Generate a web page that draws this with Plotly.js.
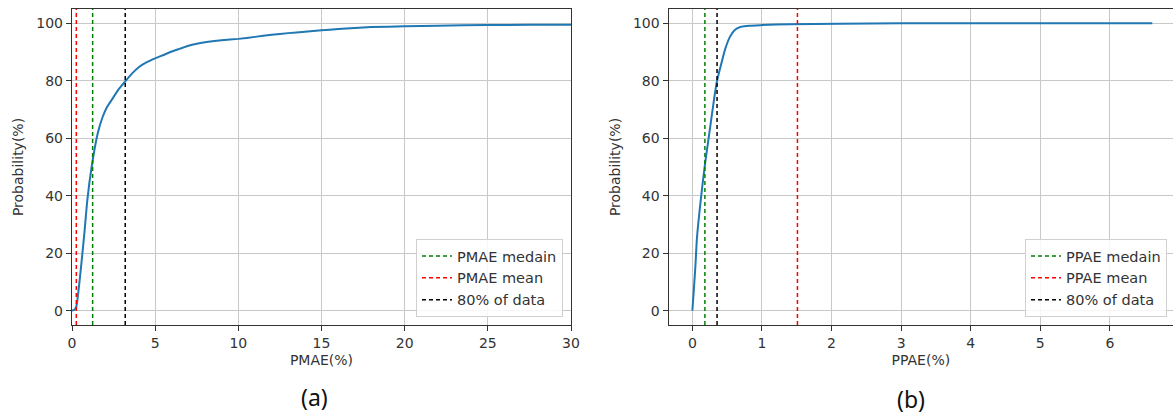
<!DOCTYPE html>
<html>
<head>
<meta charset="utf-8">
<script src="https://cdn.plot.ly/plotly-3.0.1.min.js"></script>
<style>html,body{margin:0;padding:0;background:#fff;}#chart{width:1173px;height:420px;}</style>
</head>
<body>
<div id="chart"></div>
<script>
// PMAE cumulative distribution (panel a)
const pmaeX = [0, 0.15, 0.25, 0.32, 0.43, 0.54, 0.74, 0.92, 1.18, 1.54, 1.84, 2.1, 2.38, 2.8, 3.2, 3.6, 4.05, 4.5, 5.0, 5.5, 6.0, 6.5, 7.0, 7.5, 8.0, 9.0, 10.0, 11.0, 12.0, 13.0, 14.0, 15.0, 16.0, 17.0, 18.0, 20.0, 22.0, 25.0, 27.5, 30.0];
const pmaeY = [0, 0.3, 1.2, 3.5, 9, 15, 26.7, 38.4, 50, 61.6, 67.4, 70.8, 73.3, 77, 79.8, 82.5, 84.9, 86.5, 87.8, 89, 90.2, 91.2, 92.2, 92.9, 93.4, 94.1, 94.6, 95.3, 96, 96.6, 97.1, 97.6, 98, 98.4, 98.7, 99, 99.2, 99.4, 99.5, 99.5];
// PPAE cumulative distribution (panel b)
const ppaeX = [0, 0.015, 0.03, 0.045, 0.065, 0.12, 0.176, 0.243, 0.31, 0.352, 0.405, 0.467, 0.54, 0.61, 0.70, 0.82, 1.0, 1.4, 2.1, 3.0, 4.0, 5.0, 6.0, 6.61];
const ppaeY = [0, 5, 10.5, 16, 25, 38.4, 50, 61.6, 73.3, 79.7, 84.9, 90.7, 95.3, 97.7, 98.8, 99.2, 99.4, 99.7, 99.9, 100, 100, 100, 100, 100];
// reference lines
const pmaeMedian = 1.24, pmaeMean = 0.26, pmae80 = 3.2;
const ppaeMedian = 0.18, ppaeMean = 1.51, ppae80 = 0.355;
const yMin = -5, yMax = 105;
const legendA = ['PMAE medain', 'PMAE mean', '80% of data'];
const legendB = ['PPAE medain', 'PPAE mean', '80% of data'];
const xTicksA = [0, 5, 10, 15, 20, 25, 30];
const xTicksB = [0, 1, 2, 3, 4, 5, 6];
const yTicks = [0, 20, 40, 60, 80, 100];

const blue = '#1f77b4';
function vline(x, color, name, xa, ya, leg) {
  return {x: [x, x], y: [yMin, yMax], mode: 'lines', name: name, xaxis: xa, yaxis: ya, legend: leg,
          line: {color: color, width: 1.5, dash: '4px,3px'}, hoverinfo: 'skip'};
}
const traces = [
  {x: pmaeX, y: pmaeY, mode: 'lines', line: {color: blue, width: 2, shape: 'spline', smoothing: 0.5}, showlegend: false, xaxis: 'x', yaxis: 'y'},
  vline(pmaeMedian, 'green', legendA[0], 'x', 'y', 'legend'),
  vline(pmaeMean, 'red', legendA[1], 'x', 'y', 'legend'),
  vline(pmae80, 'black', legendA[2], 'x', 'y', 'legend'),
  {x: ppaeX, y: ppaeY, mode: 'lines', line: {color: blue, width: 2, shape: 'spline', smoothing: 0.5}, showlegend: false, xaxis: 'x2', yaxis: 'y2'},
  vline(ppaeMedian, 'green', legendB[0], 'x2', 'y2', 'legend2'),
  vline(ppaeMean, 'red', legendB[1], 'x2', 'y2', 'legend2'),
  vline(ppae80, 'black', legendB[2], 'x2', 'y2', 'legend2')
];

const tickFont = {family: 'DejaVu Sans, sans-serif', size: 14, color: '#333'};
const titleFont = {family: 'DejaVu Sans, sans-serif', size: 14, color: '#333'};
const axisCommon = {
  showgrid: true, gridcolor: '#c8c8c8', gridwidth: 1,
  showline: true, linecolor: '#333', linewidth: 1.2, mirror: true,
  ticks: 'outside', ticklen: 5, tickcolor: '#333', tickfont: tickFont, zeroline: false
};
const legendCommon = {
  bgcolor: 'rgba(255,255,255,0.85)', bordercolor: '#d0d0d0', borderwidth: 1,
  font: {family: 'DejaVu Sans, sans-serif', size: 14.5, color: '#333'},
  xanchor: 'right', yanchor: 'bottom', tracegroupgap: 0, itemwidth: 30
};

const layout = {
  width: 1173, height: 420,
  margin: {l: 0, r: 0, t: 9, b: 95},
  paper_bgcolor: '#fff', plot_bgcolor: '#fff',
  showlegend: true,
  xaxis: Object.assign({}, axisCommon, {domain: [72/1173, 571/1173], range: [0, 30], tickvals: xTicksA, anchor: 'y',
    title: {text: 'PMAE(%)', font: titleFont, standoff: 5}}),
  yaxis: Object.assign({}, axisCommon, {domain: [0, 1], range: [yMin, yMax], tickvals: yTicks, anchor: 'x',
    title: {text: 'Probability(%)', font: titleFont, standoff: 9}}),
  xaxis2: Object.assign({}, axisCommon, {domain: [668.7/1173, 1], range: [-0.34, 6.907], tickvals: xTicksB, anchor: 'y2',
    title: {text: 'PPAE(%)', font: titleFont, standoff: 5}}),
  yaxis2: Object.assign({}, axisCommon, {domain: [0, 1], range: [yMin, yMax], tickvals: yTicks, anchor: 'x2',
    title: {text: 'Probability(%)', font: titleFont, standoff: 9}}),
  legend: Object.assign({}, legendCommon, {x: 563/1173, y: (420-95-317)/316, xref: 'paper', yref: 'paper'}),
  legend2: Object.assign({}, legendCommon, {x: 1167/1173, y: (420-95-317)/316, xref: 'paper', yref: 'paper'}),
  annotations: [
    {text: '(a)', xref: 'paper', yref: 'paper', x: 314/1173, y: -(397-325)/316, xanchor: 'center', yanchor: 'middle', showarrow: false,
     font: {family: 'Noto Sans, sans-serif', size: 23, color: '#111'}},
    {text: '(b)', xref: 'paper', yref: 'paper', x: 911/1173, y: -(399-325)/316, xanchor: 'center', yanchor: 'middle', showarrow: false,
     font: {family: 'Noto Sans, sans-serif', size: 23, color: '#111'}}
  ]
};

Plotly.newPlot('chart', traces, layout, {displayModeBar: false, staticPlot: true});
</script>
</body>
</html>
